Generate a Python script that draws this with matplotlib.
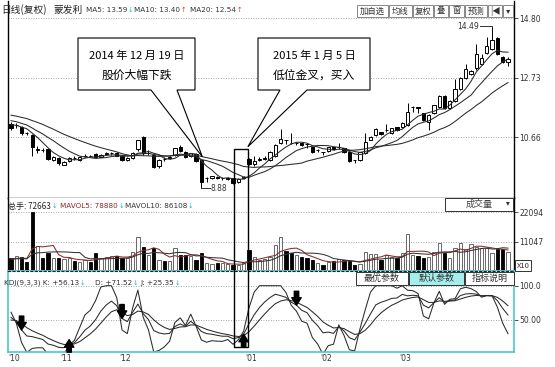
import matplotlib
matplotlib.use("Agg")
import matplotlib.pyplot as plt
from matplotlib.patches import Rectangle, Polygon
import numpy as np
import pandas as pd

plt.rcParams["font.family"] = ["Noto Sans CJK SC", "DejaVu Sans"]

# ---- daily bars ----
opens = [11.14, 11.08, 11.02, 10.82, 10.75, 10.22, 10.22, 10.26, 9.88, 9.94,
         9.70, 9.82, 9.95, 9.86, 10.00, 10.02, 10.08, 9.98, 10.08, 10.10,
         10.12, 10.02, 9.86, 9.93, 10.25, 10.66, 10.10, 10.06, 9.65, 9.92,
         9.94, 10.04, 10.32, 10.15, 10.00, 10.08, 9.87, 9.24, 9.24, 9.26,
         9.24, 9.22, 9.24, 9.10, 9.25, 9.90, 9.72, 9.88, 9.90, 9.87,
         10.00, 10.45, 10.57, 10.47, 10.45, 10.45, 10.44, 10.32, 10.21, 10.15,
         10.17, 10.32, 10.31, 10.28, 10.14, 9.87, 9.87, 10.11, 10.57, 10.74,
         10.84, 10.90, 10.80, 11.01, 11.01, 11.08, 11.70, 11.70, 11.49, 11.19,
         11.49, 11.70, 12.10, 11.67, 11.94, 12.35, 12.73, 12.87, 13.07, 13.21,
         13.59, 13.75, 14.10, 13.45, 13.28]
highs = [11.20, 11.16, 11.06, 10.84, 10.78, 10.36, 10.30, 10.28, 10.00, 9.96,
         9.82, 9.98, 10.02, 10.00, 10.08, 10.05, 10.10, 10.08, 10.15, 10.16,
         10.14, 10.04, 9.97, 10.15, 10.58, 10.72, 10.22, 10.08, 9.90, 9.96,
         10.00, 10.30, 10.40, 10.20, 10.12, 10.10, 9.88, 9.28, 9.32, 9.30,
         9.28, 9.27, 9.26, 9.24, 9.30, 9.95, 10.00, 9.98, 10.00, 10.20,
         10.42, 10.94, 10.58, 10.80, 10.50, 10.47, 10.47, 10.34, 10.26, 10.16,
         10.33, 10.34, 10.45, 10.30, 10.16, 9.88, 10.16, 10.81, 10.69, 10.97,
         10.86, 11.14, 10.99, 11.03, 11.18, 11.87, 11.76, 11.72, 11.51, 11.46,
         11.80, 12.14, 12.12, 11.96, 12.70, 12.76, 13.21, 13.00, 13.90, 13.56,
         14.15, 14.49, 14.14, 13.50, 13.45]
lows = [10.90, 11.00, 10.75, 10.74, 10.00, 10.12, 10.15, 9.88, 9.85, 9.70,
        9.68, 9.80, 9.88, 9.83, 9.96, 9.97, 9.95, 9.96, 10.04, 10.06,
        10.00, 9.85, 9.82, 9.90, 10.20, 10.05, 10.04, 9.60, 9.60, 9.85,
        9.90, 10.02, 10.15, 9.95, 9.97, 9.80, 8.88, 9.12, 9.22, 9.20,
        9.18, 9.18, 9.05, 9.08, 9.20, 9.68, 9.65, 9.84, 9.86, 9.84,
        9.96, 10.42, 10.42, 10.42, 10.40, 10.36, 10.30, 10.12, 10.15, 10.05,
        10.15, 10.22, 10.27, 10.12, 9.80, 9.76, 9.84, 10.08, 10.55, 10.72,
        10.75, 10.86, 10.78, 10.89, 10.98, 11.05, 11.55, 11.52, 11.22, 10.90,
        11.46, 11.68, 11.64, 11.64, 11.90, 12.32, 12.70, 12.84, 13.00, 13.18,
        13.55, 13.70, 13.52, 13.25, 13.15]
closes = [11.00, 11.10, 10.82, 10.80, 10.32, 10.24, 10.21, 9.90, 9.98, 9.76,
          9.80, 9.94, 9.93, 9.97, 10.02, 10.00, 9.97, 10.05, 10.10, 10.12,
          10.02, 9.88, 9.95, 10.12, 10.56, 10.10, 10.12, 9.63, 9.87, 9.90,
          9.96, 10.28, 10.18, 9.98, 10.10, 9.84, 9.12, 9.24, 9.30, 9.25,
          9.24, 9.23, 9.07, 9.22, 9.27, 9.72, 9.85, 9.90, 9.93, 10.15,
          10.38, 10.59, 10.56, 10.45, 10.46, 10.38, 10.43, 10.14, 10.22, 10.14,
          10.31, 10.25, 10.32, 10.14, 9.83, 9.86, 10.14, 10.50, 10.67, 10.95,
          10.77, 10.91, 10.97, 10.91, 11.15, 11.53, 11.71, 11.68, 11.25, 11.43,
          11.77, 12.10, 11.67, 11.94, 12.35, 12.73, 13.04, 12.97, 13.56, 13.42,
          13.83, 14.06, 13.56, 13.28, 13.38]
volumes = [47800, 56500, 53800, 35000, 220940, 95200, 50100, 66600, 47800, 47800,
           45200, 47800, 37600, 35000, 41400, 35000, 66600, 47800, 53800, 56500,
           56500, 47800, 47800, 70400, 129100, 91500, 60200, 85400, 41400, 38800,
           37600, 85400, 60200, 60200, 57600, 41400, 66600, 29000, 25200, 29000,
           29000, 25200, 22600, 22600, 29000, 79000, 53800, 41400, 45200, 53800,
           97900, 129100, 75300, 67800, 60200, 52700, 48900, 41400, 30100, 22600,
           33900, 37600, 45200, 41400, 37600, 22600, 26300, 71500, 64000, 64000,
           41400, 60200, 52700, 48900, 67800, 139300, 60200, 56500, 48900, 52700,
           71500, 105400, 67800, 48900, 86600, 105000, 82800, 101600, 90300, 86600,
           88000, 67800, 82000, 84000, 72663]

# bars before the visible window (only feed the MA / KDJ lines)
pre_close = [11.75, 11.70, 11.62, 11.68, 11.55, 11.60, 11.58, 11.62, 11.55, 11.55,
             11.45, 11.40, 11.38, 11.35, 11.32, 11.20, 11.12, 11.10, 11.06]
pre_high = [11.48, 11.45, 11.42, 11.40, 11.34, 11.22, 11.18, 11.15]
pre_low = [11.30, 11.28, 11.25, 11.18, 11.08, 10.95, 10.98, 10.96]
pre_volume = [46000, 44000, 48000, 43000, 45000, 41000, 47000, 42000, 44000]
kd_seed = (72.0, 48.0)

month_labels = ["'10", "'11", "'12", "'01", "'02", "'03"]
month_pos = [0, 10, 21, 45, 59, 74]
price_ticks = [10.66, 12.73, 14.80]
vol_ticks = [11047, 22094]
kdj_ticks = [50, 100]
cross_idx = [2, 11, 21, 44, 54]
cross_dir = ["down", "up", "down", "up", "down"]

# ---- indicators ----
o, h, l, c = map(np.array, (opens, highs, lows, closes))
n = len(c)
x = np.arange(n)
up = c >= o

close_all = pd.Series(pre_close + closes)
ma = {w: close_all.rolling(w).mean().to_numpy()[-n:] for w in (5, 10, 20)}
vol_all = pd.Series(pre_volume + volumes) / 10.0
mavol5 = vol_all.rolling(5).mean().to_numpy()[-n:]
mavol10 = vol_all.rolling(10).mean().to_numpy()[-n:]
vol = np.array(volumes) / 10.0

hhv = pd.Series(pre_high + highs).rolling(9).max().to_numpy()[-n:]
llv = pd.Series(pre_low + lows).rolling(9).min().to_numpy()[-n:]
rsv = (c - llv) / (hhv - llv) * 100
kv, dv = kd_seed
K, D = [], []
for r in rsv:
    kv = (2 * kv + r) / 3
    dv = (2 * dv + kv) / 3
    K.append(kv)
    D.append(dv)
K, D = np.array(K), np.array(D)
J = np.clip(3 * K - 2 * D, 0, 100)

# ---- figure ----
W, H = 555, 367
fig = plt.figure(figsize=(W / 100, H / 100), dpi=100)
renderer = fig.canvas.get_renderer()


def px_rect(x0, y0, x1, y1):
    return [x0 / W, 1 - y1 / H, (x1 - x0) / W, (y1 - y0) / H]


def ftext(px, py, s, **kw):
    kw.setdefault("va", "center")
    kw.setdefault("ha", "left")
    return fig.text(px / W, 1 - py / H, s, **kw)


def text_run(py, pieces):
    # pieces: (x or None, text, kwargs); None -> right after the previous piece
    cur = 0
    for px, s, kw in pieces:
        start = cur + 0.5 if px is None else max(px, cur + 1)
        t = ftext(start, py, s, **kw)
        cur = t.get_window_extent(renderer).x1


CYAN = "#4cc8cc"
GRID = dict(color="#8a8a8a", lw=0.6, ls=(0, (1, 2)))

ax = fig.add_axes(px_rect(8, 1, 514, 198))
axv = fig.add_axes(px_rect(8, 198, 514, 271), sharex=ax)
axk = fig.add_axes(px_rect(8, 271, 514, 352), sharex=ax)
ax.set_xlim(-0.567, 95.14)
ax.set_ylim(8.548, 15.403)
axv.set_ylim(0, 27477)
axk.set_ylim(3.35, 121.4)

# candles
bw = 0.62
ax.vlines(x, l, h, color="black", lw=0.7, zorder=2)
body_lo = np.minimum(o, c)
body_h = np.maximum(np.abs(c - o), 0.012)
ax.bar(x[up], body_h[up], bottom=body_lo[up], width=bw, facecolor="white",
       edgecolor="black", lw=0.7, zorder=3)
ax.bar(x[~up], body_h[~up], bottom=body_lo[~up], width=bw, facecolor="black",
       edgecolor="black", lw=0.7, zorder=3)
for w in (5, 10, 20):
    ax.plot(x, ma[w], color="#2a2a2a", lw=0.75, zorder=4)

# high / low markers
top_i, bot_i = int(np.argmax(h)), int(np.argmin(l))
ax.plot([top_i - 2.2, top_i, top_i], [h[top_i] + 0.04, h[top_i] + 0.04, h[top_i]],
        color="#333", lw=0.7, zorder=5)
ax.text(top_i - 2.4, h[top_i] + 0.04, f"{h[top_i]:.2f}", fontsize=5.5,
        color="#333", ha="right", va="center", family="DejaVu Sans")
ax.plot([bot_i, bot_i + 1.6], [l[bot_i], l[bot_i]], color="#333", lw=0.7, zorder=5)
ax.text(bot_i + 1.8, l[bot_i], f"{l[bot_i]:.2f}", fontsize=5.5, color="#333",
        ha="left", va="center", family="DejaVu Sans")

# volume
axv.bar(x[up], vol[up], width=bw, facecolor="white", edgecolor="#505050", lw=0.6)
axv.bar(x[~up], vol[~up], width=bw, facecolor="black", edgecolor="black", lw=0.6)
axv.plot(x, mavol5, color="#8b2a2a", lw=0.75)
axv.plot(x, mavol10, color="#333333", lw=0.75)

# KDJ
for s in (K, D, J):
    axk.plot(x, s, color="#2a2a2a", lw=0.75)
kdj_floor = axk.get_ylim()[0] + 18  # keep the up arrows inside the panel
for i, d in zip(cross_idx, cross_dir):
    off = 10 if d == "down" else -9
    tip = K[i] if d == "down" else max(K[i], kdj_floor)
    axk.annotate("", xy=(i, tip), xytext=(0, off), textcoords="offset points",
                 arrowprops=dict(arrowstyle="simple,head_width=0.75,head_length=0.6,tail_width=0.35",
                                 color="black", mutation_scale=9, shrinkA=0, shrinkB=0))

# axes cosmetics
for a, ticks, fmt in ((ax, price_ticks, "{:.2f}"), (axv, vol_ticks, "{:d}"),
                      (axk, kdj_ticks, None)):
    a.yaxis.tick_right()
    a.set_yticks(ticks)
    if fmt:
        a.set_yticklabels([fmt.format(t) for t in ticks])
    a.tick_params(axis="y", length=3, width=0.6, pad=1, labelsize=5.5,
                  colors="#333333")
    a.tick_params(axis="x", length=0, labelbottom=False)
    a.grid(axis="y", **GRID)
    a.set_axisbelow(True)
axk.set_yticklabels(["50.00", "100.0"])
for lab in ax.get_yticklabels() + axv.get_yticklabels() + axk.get_yticklabels():
    lab.set_family("DejaVu Sans")

ax.spines["top"].set_visible(False)
for a in (ax, axv):
    for sp in ("left", "right", "bottom"):
        a.spines[sp].set_color("black")
        a.spines[sp].set_linewidth(1.0)
axv.spines["top"].set_visible(False)
axv.spines["bottom"].set_color(CYAN)
axv.spines["bottom"].set_linewidth(1.4)
for sp in ("left", "right", "bottom"):
    axk.spines[sp].set_color(CYAN)
    axk.spines[sp].set_linewidth(1.2)
axk.spines["top"].set_color("#222")
axk.spines["top"].set_linestyle((0, (2, 2)))
axk.spines["top"].set_linewidth(0.8)

for pos, lab in zip(month_pos, month_labels):
    axk.text(pos - 0.6, -0.03, lab, transform=axk.get_xaxis_transform(),
             ha="left", va="top", fontsize=5.5, color="#333", family="DejaVu Sans")

# ---- header texts ----
dark = "#333333"
up_c, dn_c = "#e03030", "#20b8c0"
num = dict(fontsize=5.2, color=dark, family="DejaVu Sans")
dn = dict(fontsize=4.8, color=dn_c, family="DejaVu Sans")
upa = dict(fontsize=4.8, color=up_c, family="DejaVu Sans")

text_run(10, [(1, "日线(复权)", dict(fontsize=7, color="#222")),
              (53, "蒙发利", dict(fontsize=7, color="#222")),
              (86, "MA5: 13.59", num), (None, "↓", dn),
              (133, "MA10: 13.40", num), (None, "↑", upa),
              (190, "MA20: 12.54", num), (None, "↑", upa)])
text_run(206, [(8, "总手: 72663", dict(fontsize=5.8, color="#222")), (None, "↓", dn),
               (60, "MAVOL5: 78880", dict(num, color="#8b2a2a")), (None, "↓", dn),
               (123, "MAVOL10: 86108", num), (None, "↓", dn)])
text_run(283, [(4, "KDJ(9,3,3) K: +56.13", num), (None, "↓", dn),
               (95, "D: +71.52", num), (None, "↓", dn),
               (140, "J: +25.35", num), (None, "↓", dn)])


def px_box(x0, y0, x1, y1, label, fc="white", ec="#555", fs=6.5, lw=0.7):
    fig.add_artist(Rectangle((x0 / W, 1 - y1 / H), (x1 - x0) / W, (y1 - y0) / H,
                             transform=fig.transFigure, facecolor=fc, edgecolor=ec,
                             lw=lw, zorder=6))
    if label:
        ftext((x0 + x1) / 2, (y0 + y1) / 2, label, ha="center", fontsize=fs,
              color="#333", zorder=7)


for lab, x0, x1 in (("加自选", 357, 388), ("均线", 389, 412), ("复权", 413, 433),
                    ("叠", 434, 448), ("窗", 449, 464), ("预测", 465, 487),
                    ("|◀", 488, 502), ("▾", 503, 513)):
    px_box(x0, 5, x1, 17, lab, ec="#888", fs=6)

px_box(445, 198, 513, 211, None, ec="#333")
ftext(479, 204.5, "成交量", ha="center", fontsize=6.5, color="#444", zorder=7)
ftext(508, 203.5, "▾", ha="center", fontsize=5.5, color="#333", zorder=7)
px_box(515, 260, 531, 271, "X10", ec="#333", fs=5.5)
for lab, x0, x1, fc in (("最优参数", 356, 408, "white"), ("默认参数", 409, 464, "#a6eeee"),
                        ("指标说明", 465, 514, "white")):
    px_box(x0, 272, x1, 285, lab, fc=fc, ec="#333", fs=6.5)

# ---- callouts ----
to_fig = fig.transFigure.inverted()


def data_fig(a, pt):
    return tuple(to_fig.transform(a.transData.transform(pt)))


def callout(x0, y0, x1, y1, n0, n1, tip, lines):
    pts = [(x0, y0), (x1, y0), (x1, y1), (n1, y1)]
    pts = [(px_ / W, 1 - py_ / H) for px_, py_ in pts]
    pts.append(tip)
    pts += [(n0 / W, 1 - y1 / H), (x0 / W, 1 - y1 / H)]
    fig.add_artist(Polygon(pts, closed=True, transform=fig.transFigure,
                           facecolor="white", edgecolor="black", lw=0.8, zorder=8))
    cx = (x0 + x1) / 2
    ftext(cx, 56, lines[0], ha="center", fontsize=8, color="black", zorder=9)
    ftext(cx, 75, lines[1], ha="center", fontsize=8.5, color="black", zorder=9)


callout(78, 38, 195, 90, 151, 177, data_fig(ax, (36.2, 9.98)),
        ["2014 年 12 月 19 日", "股价大幅下跌"])
callout(258, 38, 370, 90, 280, 307, data_fig(ax, (44.8, 10.33)),
        ["2015 年 1 月 5 日", "低位金叉，买入"])

# highlight frame around the golden-cross days, across all panels
tl = data_fig(ax, (42.15, 10.25))
br = data_fig(axk, (44.8, 10.6))
fig.add_artist(Rectangle((tl[0], br[1]), br[0] - tl[0], tl[1] - br[1],
                         transform=fig.transFigure, fill=False, edgecolor="black",
                         lw=1.0, zorder=8))

fig.savefig("out.png", dpi=100)
